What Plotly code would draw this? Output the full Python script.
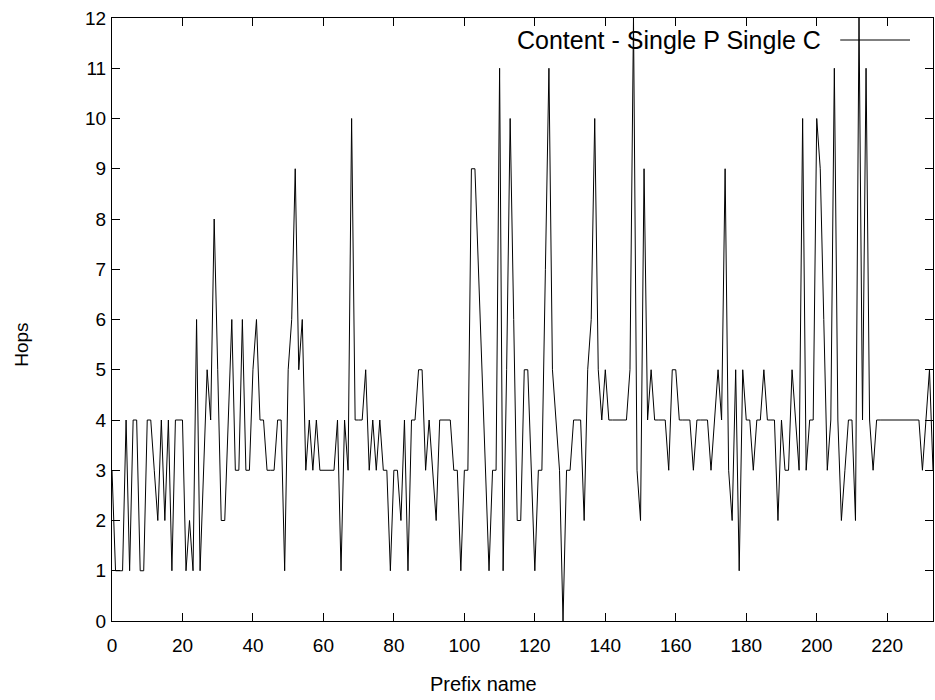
import plotly.graph_objects as go

hops = [
    3, 1, 1, 1, 4, 1, 4, 4, 1, 1,   # 0-9
    4, 4, 3, 2, 4, 2, 4, 1, 4, 4,   # 10-19
    4, 1, 2, 1, 6, 1, 3, 5, 4, 8,   # 20-29
    5, 2, 2, 4, 6, 3, 3, 6, 3, 3,   # 30-39
    5, 6, 4, 4, 3, 3, 3, 4, 4, 1,   # 40-49
    5, 6, 9, 5, 6, 3, 4, 3, 4, 3,   # 50-59
    3, 3, 3, 3, 4, 1, 4, 3, 10, 4,  # 60-69
    4, 4, 5, 3, 4, 3, 4, 3, 3, 1,   # 70-79
    3, 3, 2, 4, 1, 4, 4, 5, 5, 3,   # 80-89
    4, 3, 2, 4, 4, 4, 4, 3, 3, 1,   # 90-99
    3, 3, 9, 9, 7, 5, 3, 1, 3, 3,   # 100-109
    11, 1, 5, 10, 6, 2, 2, 5, 5, 3, # 110-119
    1, 3, 3, 7, 11, 5, 4, 3, 0, 3,  # 120-129
    3, 4, 4, 4, 2, 5, 6, 10, 5, 4,  # 130-139
    5, 4, 4, 4, 4, 4, 4, 5, 12, 3,  # 140-149
    2, 9, 4, 5, 4, 4, 4, 4, 3, 5,   # 150-159
    5, 4, 4, 4, 4, 3, 4, 4, 4, 4,   # 160-169
    3, 4, 5, 4, 9, 3, 2, 5, 1, 5,   # 170-179
    4, 4, 3, 4, 4, 5, 4, 4, 4, 2,   # 180-189
    4, 3, 3, 5, 4, 3, 10, 3, 4, 4,  # 190-199
    10, 9, 6, 3, 4, 11, 4, 2, 3, 4, # 200-209
    4, 2, 12, 4, 11, 4, 3, 4, 4, 4, # 210-219
    4, 4, 4, 4, 4, 4, 4, 4, 4, 4,   # 220-229
    3, 4, 5, 3,                     # 230-233
]
prefix = list(range(len(hops)))
x_tick_vals = list(range(0, 221, 20))
y_tick_vals = list(range(0, 13))
series_name = "Content - Single P Single C"
x_title = "Prefix name"
y_title = "Hops"

FONT = "Liberation Sans, Arial, Helvetica, sans-serif"

fig = go.Figure()
fig.add_trace(go.Scatter(
    x=prefix, y=hops, mode="lines",
    line=dict(color="black", width=1),
    showlegend=False, name=series_name,
))

axis_common = dict(
    ticks="inside", ticklen=8, tickwidth=1, tickcolor="black",
    showline=True, linecolor="black", linewidth=1, mirror="ticks",
    showgrid=False, zeroline=False,
    tickfont=dict(family=FONT, size=19, color="black"),
)

fig.update_xaxes(range=[0, len(hops) - 1], tickvals=x_tick_vals,
                 ticklabelstandoff=7, **axis_common)
fig.update_yaxes(range=[0, 12], tickvals=y_tick_vals,
                 ticklabelstandoff=1, **axis_common)

fig.update_layout(
    width=935, height=700,
    margin=dict(l=112, r=2, t=18, b=79),
    plot_bgcolor="white", paper_bgcolor="white",
    font=dict(family=FONT, size=19, color="black"),
    annotations=[
        dict(text=x_title, xref="paper", yref="paper", x=0.453, y=-0.1045,
             xanchor="center", yanchor="middle", showarrow=False,
             font=dict(family=FONT, size=20)),
        dict(text=y_title, xref="paper", yref="paper", x=-0.1096, y=0.458,
             xanchor="center", yanchor="middle", textangle=-90, showarrow=False,
             font=dict(family=FONT, size=19)),
        dict(text=series_name, xref="paper", yref="paper", x=0.866, y=0.9635,
             xanchor="right", yanchor="middle", showarrow=False,
             font=dict(family=FONT, size=25)),
    ],
    shapes=[
        dict(type="line", xref="paper", yref="paper", x0=0.887, x1=0.972,
             y0=0.9635, y1=0.9635, line=dict(color="black", width=1)),
    ],
)

fig.write_html("out.html")
